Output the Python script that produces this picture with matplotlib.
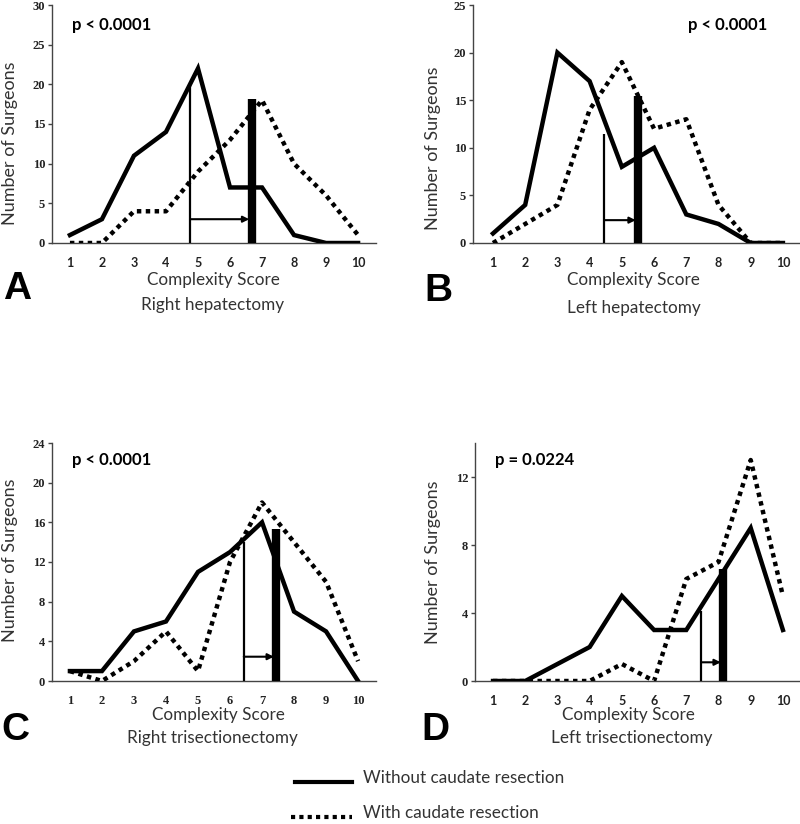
import matplotlib
matplotlib.use("Agg")
import matplotlib.pyplot as plt
from matplotlib.lines import Line2D

W, H = 800, 824

scores = [1, 2, 3, 4, 5, 6, 7, 8, 9, 10]

A_without = [1, 3, 11, 14, 22, 7, 7, 1, 0, 0]
A_with = [0, 0, 4, 4, 9, 13, 18, 10, 6, 1]
B_without = [1, 4, 20, 17, 8, 10, 3, 2, 0, 0]
B_with = [0, 2, 4, 14, 19, 12, 13, 4, 0, 0]
C_without = [1, 1, 5, 6, 11, 13, 16, 7, 5, 0]
C_with = [1, 0, 2, 5, 1, 12, 18, 14, 10, 2]
D_without = [0, 0, 1, 2, 5, 3, 3, 6, 9, 3]
D_with = [0, 0, 0, 0, 1, 0, 6, 7, 13, 5]

# mean markers: (mean without, height), (mean with, height), arrow level
mean_without = [4.75, 4.45, 6.43, 7.46]
mean_without_h = [20, 11.5, 14, 4.1]
mean_with = [6.68, 5.51, 7.45, 8.15]
mean_with_h = [18.2, 15.4, 15.3, 6.6]
arrow_y = [3, 2.4, 2.45, 1.1]

p_texts = ["p < 0.0001", "p < 0.0001", "p < 0.0001", "p = 0.0224"]
panel_letters = ["A", "B", "C", "D"]
subtitles = ["Right hepatectomy", "Left hepatectomy", "Right trisectionectomy", "Left trisectionectomy"]
y_max = [30, 25, 24, 14]
y_ticks = [[0, 5, 10, 15, 20, 25, 30], [0, 5, 10, 15, 20, 25], [0, 4, 8, 12, 16, 20, 24], [0, 4, 8, 12]]

fig = plt.figure(figsize=(W / 100, H / 100), dpi=100)

def rect(l, r, t, b):
    return [l / W, 1 - b / H, (r - l) / W, (b - t) / H]

def fx(x):
    return x / W

def fy(y):
    return 1 - y / H

axes_px = [(52, 376, 5, 243), (473, 800, 5, 243), (52, 376, 443, 681), (475, 800, 443, 681)]
xlims = [(0.44, 10.56), (0.38, 10.53), (0.44, 10.56), (0.44, 10.53)]
withouts = [A_without, B_without, C_without, D_without]
withs = [A_with, B_with, C_with, D_with]

p_pos = [(72, 25), (688, 25), (72, 460), (495, 460)]
letter_pos = [(17, 289), (438, 291), (15, 730), (435, 730)]
xlab_pos = [(213, 280), (633, 280), (218, 715), (628, 715)]
sub_pos = [(213, 305), (634, 308), (212, 738), (632, 738)]
ylab_pos = [(10, 143), (433, 148), (10, 560), (433, 562)]

sans = "Lato"
serif = "Liberation Serif"
txt_col = "#333333"

for i in range(4):
    l, r, t, b = axes_px[i]
    ax = fig.add_axes(rect(l, r, t, b))
    ax.set_xlim(*xlims[i])
    ax.set_ylim(0, y_max[i])
    for s in ["top", "right"]:
        ax.spines[s].set_visible(False)
    for s in ["left", "bottom"]:
        ax.spines[s].set_color("#444444")
        ax.spines[s].set_linewidth(1.0)
    ax.set_xticks(scores)
    ax.set_yticks(y_ticks[i])
    ax.tick_params(axis="x", length=0, pad=10)
    ax.tick_params(axis="y", length=3, width=1, color="#444444", pad=2)
    xfam = serif if i == 2 else sans
    for lab in ax.get_xticklabels():
        lab.set_fontfamily(xfam)
        lab.set_fontweight("bold")
        lab.set_fontsize(9)
        lab.set_color("#222222")
    for lab in ax.get_yticklabels():
        lab.set_fontfamily(serif)
        lab.set_fontweight("bold")
        lab.set_fontsize(9)
        lab.set_color("#222222")

    ax.plot(scores, withs[i], color="black", lw=3.2, linestyle=(0, (1, 1)),
            dash_capstyle="butt", zorder=3)
    ax.plot(scores, withouts[i], color="black", lw=3.2, solid_joinstyle="miter", zorder=4)

    ax.vlines(mean_without[i], 0, mean_without_h[i], color="black", lw=1.6, zorder=5)
    ax.vlines(mean_with[i], 0, mean_with_h[i], color="black", lw=6, zorder=5)
    ax.annotate("", xy=(mean_with[i] - 0.08, arrow_y[i]), xytext=(mean_without[i], arrow_y[i]),
                arrowprops=dict(arrowstyle="-|>", lw=1.5, color="black", mutation_scale=9,
                                shrinkA=0, shrinkB=0), zorder=6)

    fig.text(fx(p_pos[i][0]), fy(p_pos[i][1]), p_texts[i], fontfamily=sans, fontweight="bold",
             fontsize=12, ha="left", va="center", color="black")
    fig.text(fx(letter_pos[i][0]), fy(letter_pos[i][1]), panel_letters[i], fontfamily="Liberation Sans",
             fontweight="bold", fontsize=28, ha="center", va="center", color="black")
    fig.text(fx(xlab_pos[i][0]), fy(xlab_pos[i][1]), "Complexity Score", fontfamily=sans,
             fontsize=12.3, ha="center", va="center", color=txt_col)
    fig.text(fx(sub_pos[i][0]), fy(sub_pos[i][1]), subtitles[i], fontfamily=sans,
             fontsize=12.3, ha="center", va="center", color=txt_col)
    fig.text(fx(ylab_pos[i][0]), fy(ylab_pos[i][1]), "Number of Surgeons", fontfamily=sans,
             fontsize=13, ha="center", va="center", rotation=90, color=txt_col)

# legend
fig.add_artist(Line2D([fx(295), fx(352)], [fy(782), fy(782)], color="black", lw=3))
fig.add_artist(Line2D([fx(291), fx(352)], [fy(817), fy(817)], color="black", lw=3,
                      linestyle=(0, (1, 1)), dash_capstyle="butt"))
fig.text(fx(363), fy(778), "Without caudate resection", fontfamily=sans, fontsize=12.3,
         ha="left", va="center", color=txt_col)
fig.text(fx(363), fy(813), "With caudate resection", fontfamily=sans, fontsize=12.3,
         ha="left", va="center", color=txt_col)

fig.savefig("out.png", dpi=100)
